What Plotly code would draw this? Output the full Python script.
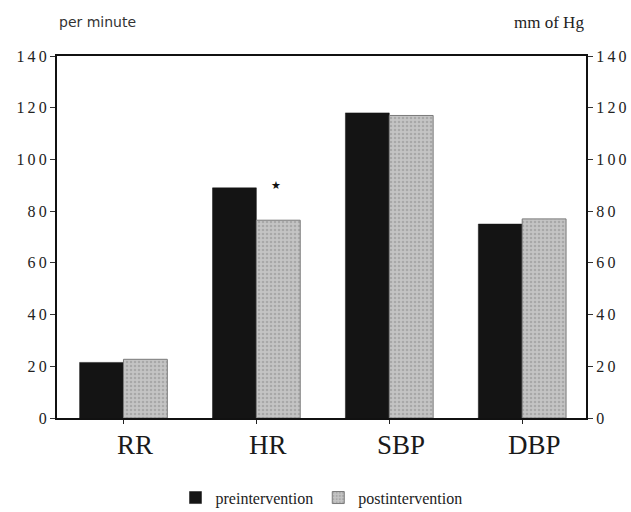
import plotly.graph_objects as go

categories = ["RR", "HR", "SBP", "DBP"]
pre_values = [21.5, 89, 118, 75]
post_values = [22.7, 76.5, 117, 77]
y_ticks = [0, 20, 40, 60, 80, 100, 120, 140]
left_unit = "per minute"
right_unit = "mm of Hg"
sig_marks = ["", "★", "", ""]

serif = "Liberation Serif, Times New Roman, serif"
tick_text = ["\u2009".join(str(v)) for v in y_ticks]

fig = go.Figure()
fig.add_trace(go.Bar(
    x=categories, y=pre_values, name="preintervention",
    marker=dict(color="#141414", line=dict(color="#141414", width=0.5)),
))
fig.add_trace(go.Bar(
    x=categories, y=post_values, name="postintervention",
    marker=dict(color="#bdbdbd", line=dict(color="#7a7a7a", width=1),
                pattern=dict(shape=".", fgcolor="#8c8c8c", bgcolor="#c4c4c4",
                             size=4, solidity=0.35, fillmode="overlay")),
))
# invisible trace to activate right axis
fig.add_trace(go.Scatter(x=categories, y=pre_values, yaxis="y2", mode="markers",
                         marker=dict(opacity=0), showlegend=False, hoverinfo="skip"))

for i, c in enumerate(categories):
    fig.add_annotation(x=c, y=0, yref="y", text=c, showarrow=False,
                       xshift=12, yshift=-27, font=dict(family=serif, size=27, color="#1a1a1a"))
    if sig_marks[i]:
        fig.add_annotation(x=c, y=max(pre_values[i], post_values[i]), text=sig_marks[i],
                           showarrow=False, xshift=20, yshift=3,
                           font=dict(family=serif, size=11, color="#111"))

fig.add_annotation(xref="paper", yref="paper", x=0.0, y=1.0, yshift=34, xanchor="left",
                   yanchor="middle", text=left_unit, showarrow=False,
                   font=dict(family="DejaVu Sans, sans-serif", size=14, color="#333"))
fig.add_annotation(xref="paper", yref="paper", x=1.0, y=1.0, yshift=34, xanchor="right",
                   yanchor="middle", text=right_unit, showarrow=False,
                   font=dict(family=serif, size=17, color="#222"))

tickfont = dict(family=serif, size=16, color="#222")
fig.update_layout(
    width=631, height=512,
    margin=dict(l=57, r=45, t=56, b=94, autoexpand=False),
    paper_bgcolor="white", plot_bgcolor="white",
    barmode="group", bargap=0.34, bargroupgap=0,
    showlegend=True,
    legend=dict(orientation="h", x=0.5, xanchor="center", y=-0.22, yanchor="middle",
                font=dict(family=serif, size=16, color="#222"), itemwidth=30,
                tracegroupgap=0),
    xaxis=dict(range=[-0.5, 3.48], showticklabels=False, ticks="outside", ticklen=4,
               tickcolor="#222", showline=True, linecolor="#111", linewidth=2,
               mirror=True, showgrid=False, zeroline=False),
    yaxis=dict(range=[0, 140], tickvals=y_ticks, ticktext=tick_text, ticks="outside",
               ticklen=5, tickcolor="#333", showline=True, linecolor="#111", linewidth=2,
               showgrid=False, zeroline=False, tickfont=tickfont),
    yaxis2=dict(range=[0, 140], tickvals=y_ticks, ticktext=tick_text, overlaying="y",
                side="right", ticks="outside", ticklen=5, tickcolor="#333", showline=True,
                linecolor="#111", linewidth=2, showgrid=False, zeroline=False,
                tickfont=tickfont),
)

fig.write_html("out.html")
